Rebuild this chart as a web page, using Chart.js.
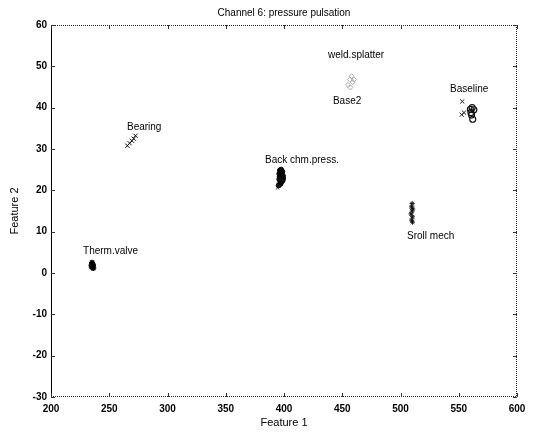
<!DOCTYPE html>
<html>
<head>
<meta charset="utf-8">
<script src="https://cdn.jsdelivr.net/npm/chart.js@4.4.0/dist/chart.umd.min.js"></script>
<style>
html,body{margin:0;padding:0;background:#fff;}
#wrap{width:535px;height:433px;position:relative;}
</style>
</head>
<body>
<div id="wrap"><canvas id="c" width="535" height="433"></canvas></div>
<script>
// ---- data ----
const titleText = "Channel 6: pressure pulsation";
const xAxisLabel = "Feature 1";
const yAxisLabel = "Feature 2";
const xTicks = [200, 250, 300, 350, 400, 450, 500, 550, 600];
const yTicks = [-30, -20, -10, 0, 10, 20, 30, 40, 50, 60];

const thermValve = [[235,1.5],[235.5,2.2],[236,1.8],[235.2,2.5],[236.3,1.2],[235.8,2.0],[234.8,1.9],[235.6,1.4]];
const bearing = [[265.5,30.8],[267.5,31.4],[269.5,32.0],[271,32.5],[272.5,33.2]];
const backChm = [[396.5,24.8],[397.5,25.0],[398.5,24.5],[396,24],[397,24.2],[398,23.8],[399,23.5],[396.3,23.3],[397.2,23],[398.3,22.8],[399.2,22.9],[396.8,22.3],[397.8,22.1],[398.8,22.4],[396,22.7],[397,21.6],[395.5,21.2]];
const backChmTail = [[394.5,20.6],[395.5,21.5]];
const weldSplatter = [[455,45.5],[456.5,46.8],[458,47.6],[459,46.2],[457,44.9],[460,46.8]];
const baselineX = [[553,41.5],[552.5,38.3],[554.5,38.8]];
const baselineO = [[561.5,40],[563,39.5],[560.5,38.8],[562,37.2],[561,38.2],[560,39.6]];
const srollMech = [[510,16.8],[509.5,16],[510.5,15.5],[510,15],[509,14.3],[510.2,13.6],[509.6,12.8],[510.3,12.3]];

const labelTexts = ["Bearing","Back chm.press.","weld.splatter","Base2","Baseline","Sroll mech","Therm.valve"];
const labelX = [265.2, 383.7, 437.8, 442, 542.5, 505.6, 227.5];
const labelY = [35.3, 27.3, 52.7, 41.6, 44.5, 8.9, 5.3];

const toPts = a => a.map(p => ({x:p[0], y:p[1]}));

const FONT = "'Liberation Sans', Arial, sans-serif";

const decor = {
  id:'decor',
  afterDraw(chart){
    const ctx = chart.ctx, a = chart.chartArea;
    const xs = chart.scales.x, ys = chart.scales.y;
    ctx.save();
    // frame
    ctx.strokeStyle = '#222'; ctx.lineWidth = 1;
    ctx.setLineDash([1,1]);
    ctx.beginPath();
    ctx.moveTo(a.left, a.top+0.5); ctx.lineTo(a.right, a.top+0.5);
    ctx.moveTo(a.right-0.5, a.top); ctx.lineTo(a.right-0.5, a.bottom);
    ctx.moveTo(a.left, a.bottom-0.5); ctx.lineTo(a.right, a.bottom-0.5);
    ctx.stroke();
    ctx.setLineDash([]);
    ctx.strokeStyle = '#000';
    ctx.beginPath();
    ctx.moveTo(a.left+0.5, a.top); ctx.lineTo(a.left+0.5, a.bottom);
    ctx.stroke();
    // inward ticks
    ctx.strokeStyle = '#333';
    ctx.beginPath();
    xTicks.forEach(v => {
      const px = Math.round(xs.getPixelForValue(v)) + 0.5;
      ctx.moveTo(px, a.bottom); ctx.lineTo(px, a.bottom-4);
      ctx.moveTo(px, a.top); ctx.lineTo(px, a.top+4);
    });
    yTicks.forEach(v => {
      const py = Math.round(ys.getPixelForValue(v)) + 0.5;
      ctx.moveTo(a.left, py); ctx.lineTo(a.left+4, py);
      ctx.moveTo(a.right, py); ctx.lineTo(a.right-4, py);
    });
    ctx.stroke();
    // annotations
    ctx.fillStyle = '#000';
    ctx.font = '10px ' + FONT;
    ctx.textAlign = 'left'; ctx.textBaseline = 'middle';
    labelTexts.forEach((t,i) => {
      ctx.fillText(t, xs.getPixelForValue(labelX[i]), ys.getPixelForValue(labelY[i]));
    });
    // title & axis labels
    ctx.textAlign = 'center';
    ctx.font = '10px ' + FONT;
    ctx.fillText(titleText, (a.left+a.right)/2, 13);
    ctx.font = '11px ' + FONT;
    ctx.fillText(xAxisLabel, (a.left+a.right)/2, 423);
    ctx.translate(15, (a.top+a.bottom)/2);
    ctx.rotate(-Math.PI/2);
    ctx.fillText(yAxisLabel, 0, 0);
    ctx.restore();
  }
};

new Chart(document.getElementById('c'), {
  type:'scatter',
  data:{
    datasets:[
      {label:'Therm.valve', data:toPts(thermValve), pointStyle:'star', radius:3, borderColor:'#000', backgroundColor:'#000', borderWidth:1.5},
      {label:'Bearing', data:toPts(bearing), pointStyle:'crossRot', radius:3, borderColor:'#111', borderWidth:1},
      {label:'Back chm.press.', data:toPts(backChm), pointStyle:'circle', radius:2.5, borderColor:'#000', backgroundColor:'#111', borderWidth:1},
      {label:'Back chm.press. tail', data:toPts(backChmTail), pointStyle:'crossRot', radius:2.5, borderColor:'#444', borderWidth:1},
      {label:'weld.splatter', data:toPts(weldSplatter), pointStyle:'rectRot', radius:2.5, borderColor:'#aaa', backgroundColor:'rgba(0,0,0,0)', borderWidth:1},
      {label:'Baseline x', data:toPts(baselineX), pointStyle:'crossRot', radius:3, borderColor:'#222', borderWidth:1},
      {label:'Baseline o', data:toPts(baselineO), pointStyle:'circle', radius:3, borderColor:'#111', backgroundColor:'rgba(0,0,0,0)', borderWidth:1.2},
      {label:'Sroll mech', data:toPts(srollMech), pointStyle:'star', radius:2.5, borderColor:'#111', borderWidth:1}
    ]
  },
  options:{
    responsive:false,
    animation:false,
    events:[],
    layout:{padding:{top:25, right:18, left:0, bottom:0}},
    plugins:{legend:{display:false}, title:{display:false}, tooltip:{enabled:false}},
    scales:{
      x:{
        type:'linear', min:200, max:600,
        afterBuildTicks(s){ s.ticks = xTicks.map(v=>({value:v})); },
        afterFit(s){ s.height = 36; },
        grid:{display:false, drawTicks:false},
        border:{display:false},
        ticks:{color:'#000', padding:6, font:{family:FONT, size:10, weight:'bold'}, maxRotation:0, autoSkip:false}
      },
      y:{
        type:'linear', min:-30, max:60,
        afterBuildTicks(s){ s.ticks = yTicks.map(v=>({value:v})); },
        afterFit(s){ s.width = 51; },
        grid:{display:false, drawTicks:false},
        border:{display:false},
        ticks:{color:'#000', padding:4, font:{family:FONT, size:10, weight:'bold'}, autoSkip:false}
      }
    }
  },
  plugins:[decor]
});
</script>
</body>
</html>
